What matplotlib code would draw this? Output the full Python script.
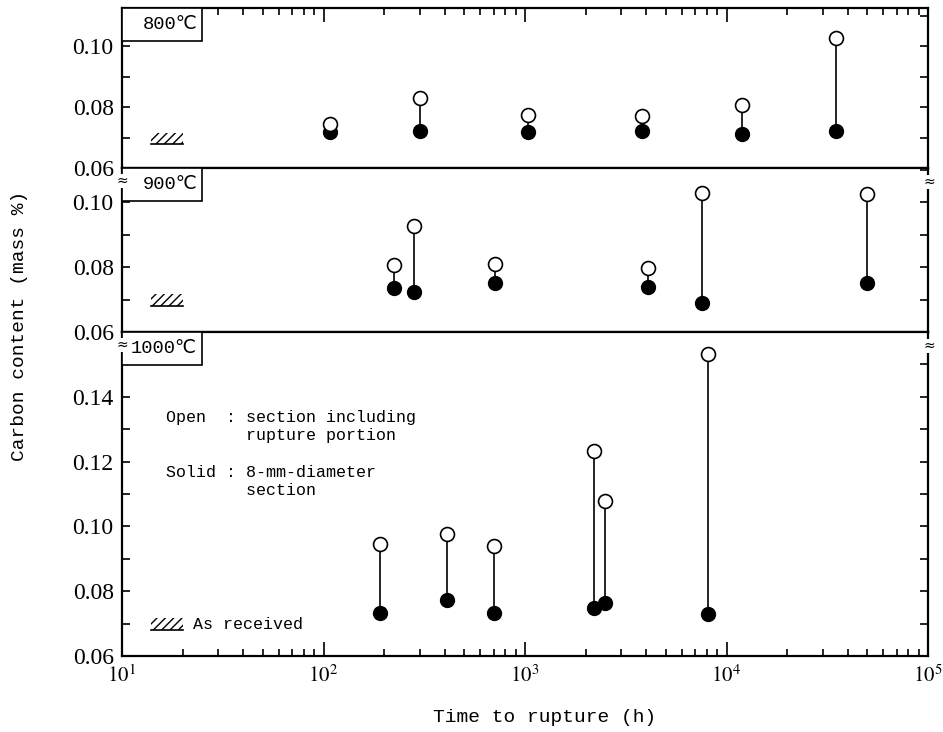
import math

import matplotlib

matplotlib.use("Agg")
import matplotlib.pyplot as plt
from matplotlib.patches import Rectangle
from matplotlib.ticker import FixedLocator, FuncFormatter, LogLocator, MultipleLocator

# time to rupture (h) and carbon content (mass %) per test temperature
t800 = [108, 300, 1035, 3820, 12000, 34800]
open800 = [0.0744, 0.0830, 0.0774, 0.0772, 0.0806, 0.1025]
solid800 = [0.0718, 0.0721, 0.0718, 0.0720, 0.0712, 0.0721]

t900 = [223, 281, 710, 4090, 7600, 49800]
open900 = [0.0806, 0.0926, 0.0809, 0.0797, 0.1028, 0.1025]
solid900 = [0.0735, 0.0723, 0.0751, 0.0738, 0.0689, 0.0751]

t1000 = [190, 409, 702, 2200, 2500, 8130]
open1000 = [0.0945, 0.0976, 0.0939, 0.1234, 0.1078, 0.1532]
solid1000 = [0.0734, 0.0774, 0.0734, 0.0749, 0.0765, 0.0731]

as_received = [0.068, 0.0716]

panels = ["800℃", "900℃", "1000℃"]
ylims = [(0.06, 0.1125), (0.06, 0.1105), (0.06, 0.16)]
yticks = [[0.06, 0.08, 0.10], [0.06, 0.08, 0.10], [0.06, 0.08, 0.10, 0.12, 0.14]]

W, H = 943, 732
MONO = ["Liberation Mono", "DejaVu Sans", "Noto Sans CJK JP"]
plt.rcParams["mathtext.fontset"] = "stix"
plt.rcParams["hatch.linewidth"] = 1.0


def setup_axis(ax, ylim, ticks, where):
    ax.set_xscale("log")
    ax.set_xlim(10, 1e5)
    ax.set_ylim(*ylim)
    ax.yaxis.set_major_locator(FixedLocator(ticks))
    ax.yaxis.set_minor_locator(MultipleLocator(0.01))
    ax.yaxis.set_major_formatter(FuncFormatter(lambda v, p: "%.2f" % v))
    ax.xaxis.set_major_locator(LogLocator(base=10))
    ax.xaxis.set_minor_locator(LogLocator(base=10, subs=range(2, 10)))
    ax.xaxis.set_major_formatter(
        FuncFormatter(lambda v, p: r"$10^{%d}$" % round(math.log10(v)))
    )
    for s in ax.spines.values():
        s.set_linewidth(1.6)
    ax.tick_params(axis="y", which="both", direction="in", left=True, right=True,
                   length=6, width=1.2, pad=6)
    ax.tick_params(axis="y", labelsize=17, labelfontfamily="Liberation Serif")
    ax.tick_params(axis="x", which="both", direction="in", width=1.2,
                   bottom=(where == "bottom"), top=(where == "top"),
                   labelbottom=(where == "bottom"), labeltop=False)
    ax.tick_params(axis="x", which="major", length=10, labelsize=15, pad=6)
    ax.tick_params(axis="x", which="minor", length=5)
    if where == "mid":
        ax.tick_params(axis="x", which="both", bottom=False, top=False)


def draw_pairs(ax, t, opn, solid):
    ax.vlines(t, solid, opn, colors="black", lw=1.2, zorder=2)
    ax.plot(t, solid, "o", color="black", ms=10, zorder=3)
    ax.plot(t, opn, "o", mfc="white", mec="black", mew=1.2, ms=10, zorder=4)


def as_received_mark(ax):
    lo, hi = as_received
    ax.add_patch(Rectangle((14, lo), 6, hi - lo, fill=False, hatch="////",
                           ec="black", lw=0, zorder=2))
    ax.plot([14, 20], [lo, lo], color="black", lw=1.2)


def label_box(ax, text, panel_px):
    w = 80 / 806
    h = 33 / panel_px
    ax.add_patch(Rectangle((0, 1 - h), w, h, transform=ax.transAxes, fc="white",
                           ec="black", lw=1.2, clip_on=False, zorder=5))
    ax.text(75 / 806, 1 - h / 2, text, transform=ax.transAxes, ha="right",
            va="center", fontsize=13.5, family=MONO, zorder=6)


def break_mark(ax, xfrac, dx, dy):
    ax.annotate("≈", xy=(xfrac, 1), xycoords="axes fraction", xytext=(dx, dy),
                textcoords="offset points", ha="center", va="center",
                fontsize=10, family="DejaVu Sans", annotation_clip=False,
                bbox=dict(fc="white", ec="none", pad=0), zorder=7)


fig = plt.figure(figsize=(W / 100, H / 100), dpi=100)
left, width = 122 / W, 806 / W
bounds = [(8, 168), (168, 332), (332, 656)]
axes = []
for top, bot in bounds:
    axes.append(fig.add_axes([left, 1 - bot / H, width, (bot - top) / H]))

data = [(t800, open800, solid800), (t900, open900, solid900), (t1000, open1000, solid1000)]
where = ["top", "mid", "bottom"]
for i, ax in enumerate(axes):
    setup_axis(ax, ylims[i], yticks[i], where[i])
    draw_pairs(ax, *data[i])
    as_received_mark(ax)
    label_box(ax, panels[i], bounds[i][1] - bounds[i][0])

for ax in axes[1:]:
    break_mark(ax, 0, 0, -9.5)
    break_mark(ax, 1, 1, -10)

ax = axes[2]
ax.text(16.6, 0.1358, "Open  : section including\n        rupture portion",
        ha="left", va="top", fontsize=12, family=MONO, linespacing=1.25)
ax.text(16.6, 0.1189, "Solid : 8-mm-diameter\n        section",
        ha="left", va="top", fontsize=12, family=MONO, linespacing=1.25)
ax.text(22.5, 0.0697, "As received", ha="left", va="center", fontsize=12, family=MONO)

fig.text(545 / W, 1 - 718 / H, "Time to rupture (h)", ha="center", va="center",
         fontsize=14, family=MONO)
fig.text(20 / W, 1 - 326 / H, "Carbon content (mass %)", ha="center", va="center",
         rotation=90, fontsize=14, family=MONO)

fig.savefig("out.png", dpi=100)
